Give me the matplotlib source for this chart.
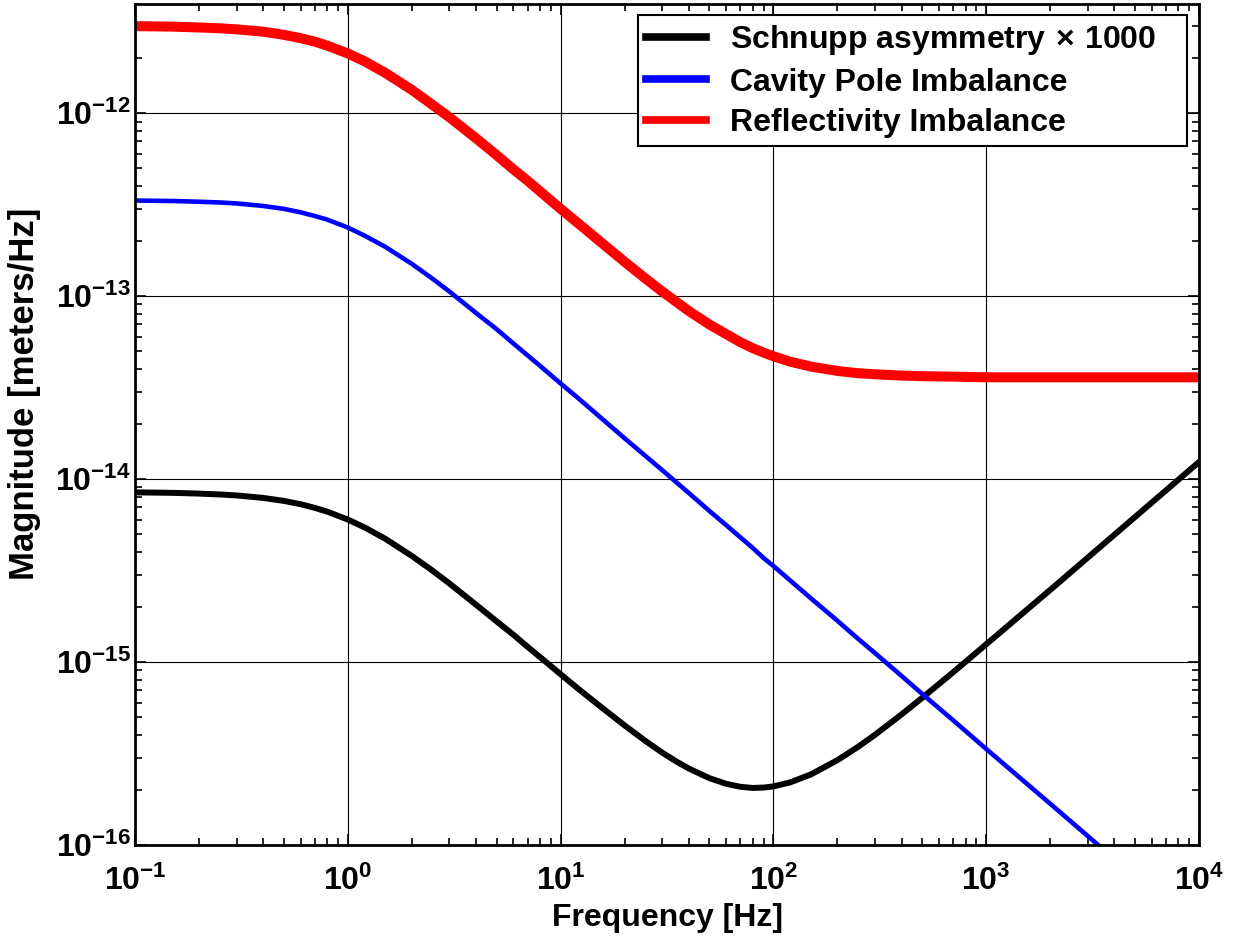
import numpy as np
import matplotlib
matplotlib.use('Agg')
import matplotlib.pyplot as plt
from matplotlib.ticker import FixedLocator, NullFormatter

freq = [0.1, 0.15, 0.2, 0.25, 0.3, 0.4, 0.5, 0.6, 0.7, 0.8, 1, 1.2, 1.5, 2, 2.5, 3, 4, 5, 6, 7, 8,
        10, 12, 15, 20, 25, 30, 35, 40, 50, 60, 70, 80, 90, 100, 120, 150, 200, 250, 300, 400,
        500, 700, 1000, 2000, 3000, 5000, 10000]

# Schnupp asymmetry x 1000 [m/Hz]
schnupp = [8.46e-15, 8.41e-15, 8.33e-15, 8.24e-15, 8.14e-15, 7.89e-15, 7.60e-15, 7.29e-15,
           6.96e-15, 6.64e-15, 6.01e-15, 5.44e-15, 4.72e-15, 3.80e-15, 3.16e-15, 2.69e-15,
           2.06e-15, 1.67e-15, 1.41e-15, 1.21e-15, 1.065e-15, 8.58e-16, 7.2e-16, 5.85e-16,
           4.50e-16, 3.71e-16, 3.20e-16, 2.86e-16, 2.62e-16, 2.32e-16, 2.16e-16, 2.08e-16,
           2.05e-16, 2.06e-16, 2.09e-16, 2.20e-16, 2.43e-16, 2.91e-16, 3.44e-16, 4.00e-16,
           5.17e-16, 6.37e-16, 8.80e-16, 1.25e-15, 2.48e-15, 3.72e-15, 6.20e-15, 1.24e-14]

# cavity pole imbalance [m/Hz]
cavity_pole = [3.33e-13, 3.31e-13, 3.28e-13, 3.25e-13, 3.21e-13, 3.11e-13, 3.00e-13, 2.87e-13,
               2.74e-13, 2.62e-13, 2.37e-13, 2.14e-13, 1.86e-13, 1.50e-13, 1.245e-13, 1.06e-13,
               8.1e-14, 6.6e-14, 5.51e-14, 4.74e-14, 4.16e-14, 3.33e-14, 2.79e-14, 2.23e-14,
               1.67e-14, 1.34e-14, 1.12e-14, 9.6e-15, 8.4e-15, 6.7e-15, 5.6e-15, 4.8e-15,
               4.2e-15, 3.7e-15, 3.35e-15, 2.79e-15, 2.23e-15, 1.68e-15, 1.34e-15, 1.12e-15,
               8.4e-16, 6.7e-16, 4.8e-16, 3.35e-16, 1.68e-16, 1.12e-16, 6.7e-17, 3.35e-17]

# reflectivity imbalance [m/Hz]
reflectivity = [2.99e-12, 2.97e-12, 2.94e-12, 2.91e-12, 2.87e-12, 2.79e-12, 2.68e-12, 2.57e-12,
                2.46e-12, 2.34e-12, 2.12e-12, 1.92e-12, 1.66e-12, 1.34e-12, 1.11e-12, 9.5e-13,
                7.3e-13, 5.9e-13, 4.93e-13, 4.27e-13, 3.74e-13, 3.0e-13, 2.52e-13, 2.03e-13,
                1.54e-13, 1.25e-13, 1.06e-13, 9.3e-14, 8.3e-14, 7.0e-14, 6.2e-14, 5.6e-14,
                5.19e-14, 4.91e-14, 4.69e-14, 4.38e-14, 4.12e-14, 3.9e-14, 3.79e-14, 3.74e-14,
                3.68e-14, 3.65e-14, 3.63e-14, 3.6e-14, 3.6e-14, 3.6e-14, 3.6e-14, 3.6e-14]

labels = [r'Schnupp asymmetry$\,\times\,$1000', 'Cavity Pole Imbalance', 'Reflectivity Imbalance']
xticks = [1e-1, 1e0, 1e1, 1e2, 1e3, 1e4]
yticks = [1e-16, 1e-15, 1e-14, 1e-13, 1e-12]

plt.rcParams['font.family'] = ['Liberation Sans', 'DejaVu Sans']
plt.rcParams['font.weight'] = 'bold'
plt.rcParams['mathtext.fontset'] = 'custom'
plt.rcParams['mathtext.rm'] = 'Liberation Sans:bold'
plt.rcParams['mathtext.it'] = 'Liberation Sans:bold'
plt.rcParams['mathtext.bf'] = 'Liberation Sans:bold'

fig = plt.figure(figsize=(12.36, 9.41), dpi=100)
ax = fig.add_axes([135/1236, 96/941, 1064/1236, 841/941])

ax.loglog(freq, schnupp, color='black', lw=4.3, label=labels[0])
ax.loglog(freq, cavity_pole, color='blue', lw=3.3, label=labels[1])
ax.loglog(freq, reflectivity, color='red', lw=7.2, label=labels[2])

ax.set_xlim(0.1, 1e4)
ax.set_ylim(1e-16, 3.95e-12)

# major ticks at decades, minor ticks at 2..9 inside the range
xminor = [m * d for d in xticks[:-1] for m in range(2, 10)]
yminor = [m * d for d in yticks for m in range(2, 10) if m * d < 3.95e-12]
ax.xaxis.set_major_locator(FixedLocator(xticks))
ax.yaxis.set_major_locator(FixedLocator(yticks))
ax.xaxis.set_minor_locator(FixedLocator(xminor))
ax.yaxis.set_minor_locator(FixedLocator(yminor))
ax.xaxis.set_minor_formatter(NullFormatter())
ax.yaxis.set_minor_formatter(NullFormatter())

ax.grid(True, which='major', color='black', lw=0.8)
ax.tick_params(which='both', direction='in', top=True, right=True, width=1.2)
ax.tick_params(which='major', length=8, labelsize=23)
ax.tick_params(axis='x', which='major', pad=15)
ax.tick_params(axis='y', which='major', pad=3)
ax.tick_params(which='minor', length=5)
for s in ax.spines.values():
    s.set_linewidth(2)

ax.set_xlabel('Frequency [Hz]', fontsize=23, fontweight='bold', labelpad=4)
ax.set_ylabel('Magnitude [meters/Hz]', fontsize=25, fontweight='bold')
ax.yaxis.set_label_coords(-0.088, 0.537)

# legend box spans a fixed region in the upper right corner
leg = ax.legend(loc='upper left', bbox_to_anchor=(0.4727, 0, 0.516, 0.9869), mode='expand',
                borderaxespad=0, fontsize=23, fancybox=False, framealpha=1,
                edgecolor='black', handlelength=1.87, handletextpad=0.75,
                borderpad=0.25, labelspacing=0.33)
leg.get_frame().set_linewidth(1.5)
for h in leg.get_lines():
    h.set_linewidth(5.5)

fig.savefig('out.png', dpi=100)
